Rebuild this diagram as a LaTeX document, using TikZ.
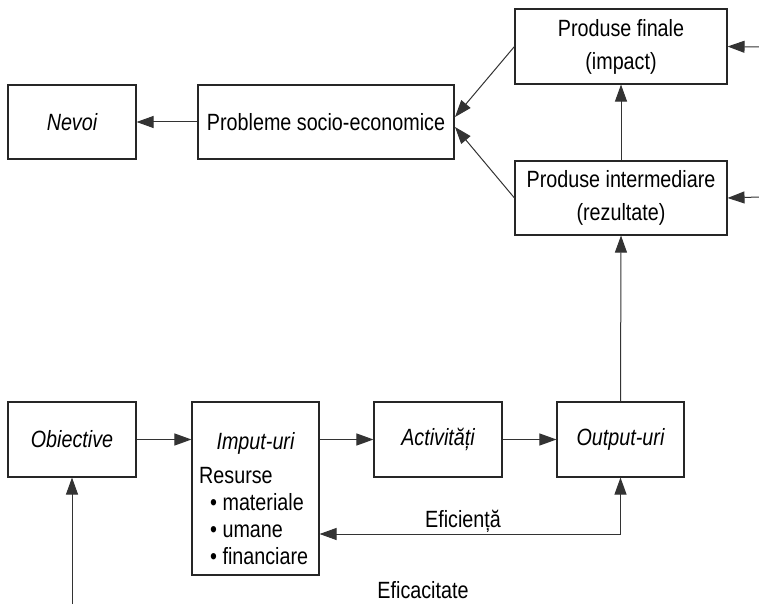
\documentclass[tikz,border=0pt]{standalone}
\usepackage{fontspec}
\setmainfont{Liberation Sans}[FakeStretch=0.84]
\usetikzlibrary{arrows.meta}
\begin{document}
\begin{tikzpicture}[x=1pt,y=-1pt,
  box/.style={draw=black!85,line width=1.1pt,inner sep=0pt,align=center,font=\fontsize{23.5}{33}\selectfont},
  conn/.style={draw=black!80,line width=1pt,-{Triangle[length=17pt,width=12pt]}},
  lbl/.style={font=\fontsize{23.5}{28}\selectfont,inner sep=0pt}]
\useasboundingbox (0,0) rectangle (759,604);
\node[box,minimum width=128pt,minimum height=74pt] (nev) at (72,122) {\itshape Nevoi};
\node[box,minimum width=256pt,minimum height=74pt] (prob) at (326,122) {Probleme socio-economice};
\node[box,minimum width=212pt,minimum height=75pt] (pf) at (621,46.5) {Produse finale\\(impact)};
\node[box,minimum width=212pt,minimum height=74pt] (pi) at (621,198) {Produse intermediare\\(rezultate)};
\node[box,minimum width=128pt,minimum height=75pt] (obj) at (72,439.5) {\itshape Obiective};
\node[box,minimum width=127pt,minimum height=173pt] (imp) at (255.5,488.5) {};
\node[lbl,anchor=base] (impt) at (255.5,449) {\itshape Imput-uri};
\node[lbl,anchor=base west] (res) at (199,483) {Resurse};
\node[lbl,anchor=base west] (m1) at (210,510) {\textbullet\ materiale};
\node[lbl,anchor=base west] (m2) at (210,537) {\textbullet\ umane};
\node[lbl,anchor=base west] (m3) at (210,564) {\textbullet\ financiare};
\node[box,minimum width=128pt,minimum height=75pt] (act) at (438,439.5) {\itshape Activități};
\node[box,minimum width=127pt,minimum height=75pt] (out) at (620.5,439.5) {\itshape Output-uri};
\coordinate (r1) at (759,47);
\coordinate (r2) at (759,197);
\coordinate (pe1) at (455,117);
\coordinate (pe2) at (455,127);
\coordinate (ef) at (620.5,534);
\coordinate (bt) at (72,604);
\draw[conn] (prob) -- (nev);
\draw[conn] (pf.west) -- (pe1);
\draw[conn] (pi.west) -- (pe2);
\draw[conn] (r1) -- (pf.east);
\draw[conn] (r2) -- (pi.east);
\draw[conn] (pi.north) -- (pf.south);
\draw[conn] (out.north) -- (pi.south);
\draw[conn] (obj.east) -- (obj.east -| imp.west);
\draw[conn] (imp.east |- act.west) -- (act.west);
\draw[conn] (act.east) -- (out.west);
\draw[conn,{Triangle[length=17pt,width=12pt]}-{Triangle[length=17pt,width=12pt]}] (imp.east |- ef) -- (ef) -- (out.south);
\draw[conn] (bt) -- (obj.south);
\node[lbl,anchor=base] (eflbl) at (463,527) {Eficiență};
\node[lbl,anchor=base] (eca) at (423,598) {Eficacitate};
\end{tikzpicture}
\end{document}
